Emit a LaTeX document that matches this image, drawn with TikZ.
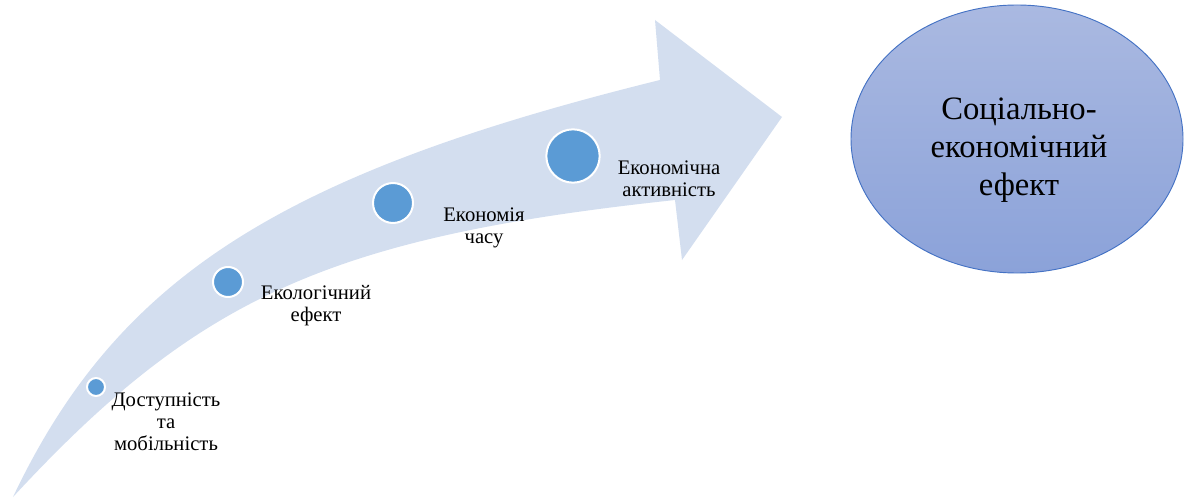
\documentclass[tikz,border=0pt]{standalone}
\usepackage{fontspec}
\setmainfont{Liberation Serif}
\usetikzlibrary{shapes.geometric}
\definecolor{arrowfill}{HTML}{D3DEEF}
\definecolor{dotblue}{HTML}{5B9BD5}
\definecolor{elltop}{HTML}{AAB9E1}
\definecolor{ellbot}{HTML}{8BA2D9}
\definecolor{ellline}{HTML}{4472C4}
\begin{document}
\begin{tikzpicture}[x=0.75pt,y=-0.75pt,
  dot/.style={circle, fill=dotblue, draw=white, line width=1.5pt, inner sep=0pt},
  lbl/.style={align=center, font=\rmfamily\fontsize{15.5}{16.5}\selectfont, text=black, inner sep=0pt},
  bigell/.style={ellipse, draw=ellline, line width=0.7pt, top color=elltop, bottom color=ellbot,
    minimum width=249pt, minimum height=201pt, inner sep=0pt},
  bigtxt/.style={align=center, inner sep=0pt, font=\rmfamily\fontsize{24.5}{28.5}\selectfont}]
\useasboundingbox (0,0) rectangle (1184,499);
\fill[arrowfill] (13,497) .. controls (117,278) and (279,174) .. (660,80)
  -- (655,20) -- (782,117) -- (682,260) -- (675,200)
  .. controls (330,237) and (198,297) .. (13,497) -- cycle;
\node[dot, minimum size=13.5pt] (d1) at (96,387) {};
\node[dot, minimum size=22.5pt] (d2) at (228,282) {};
\node[dot, minimum size=30pt] (d3) at (393,203) {};
\node[dot, minimum size=40pt] (d4) at (573,156) {};
\node[lbl] (t1) at (166,422) {Доступність\\та\\мобільність};
\node[lbl] (t2) at (316,306) {Екологічний\\ефект};
\node[lbl] (t3) at (484,228) {Економія\\часу};
\node[lbl] (t4) at (669,179) {Економічна\\активність};
\node[bigell] (e) at (1017,139) {};
\node[bigtxt] (et) at (1019,150) {Соціально-\\економічний\\ефект};
\end{tikzpicture}
\end{document}
